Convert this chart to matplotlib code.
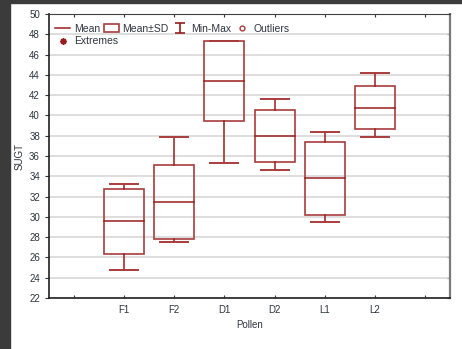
import matplotlib
matplotlib.use("Agg")
import matplotlib.pyplot as plt
from matplotlib.lines import Line2D
from matplotlib.patches import Rectangle
from matplotlib.path import Path
import numpy as np

plt.rcParams.update({"font.family": ["Liberation Sans", "DejaVu Sans"], "font.size": 7.5})

pollen = ["F1", "F2", "D1", "D2", "L1", "L2"]
means = [29.55, 31.45, 43.40, 38.00, 33.80, 40.75]
sds = [3.20, 3.68, 3.93, 2.56, 3.57, 2.11]
mins = [24.80, 27.50, 35.30, 34.60, 29.45, 37.90]
maxs = [33.25, 37.90, 47.33, 41.60, 38.40, 44.20]

box_col = "#a93c3c"
mean_col = "#981e1e"
txt_col = "#2e3440"

fig = plt.figure(figsize=(4.62, 3.49), dpi=100)
# dark screenshot border at left / top
fig.patches.append(Rectangle((0, 0), 10/462, 1, transform=fig.transFigure, color="#3b3b3b", zorder=10))
fig.patches.append(Rectangle((0, 1-2.5/349), 1, 2.5/349, transform=fig.transFigure, color="#3b3b3b", zorder=10))

ax = fig.add_axes([49/462, 51/349, 401/462, 284/349])
ax.set_xlim(-0.5, 7.5); ax.set_ylim(22, 50)
ax.set_yticks(np.arange(22, 51, 2))
ax.yaxis.grid(True, color="#d4d4d4", lw=1.1); ax.set_axisbelow(True)

w, cw = 0.8, 0.56
for i, (m, s, lo, hi) in enumerate(zip(means, sds, mins, maxs)):
    x = i + 1
    ax.add_patch(Rectangle((x - w/2, m - s), w, 2*s, fill=False, ec=box_col, lw=1.2, zorder=3))
    ax.plot([x - w/2, x + w/2], [m, m], color=mean_col, lw=1.1, zorder=4)
    ax.plot([x, x], [m + s, hi], color=mean_col, lw=1.1, zorder=3)
    ax.plot([x, x], [m - s, lo], color=mean_col, lw=1.1, zorder=3)
    ax.plot([x - cw/2, x + cw/2], [hi, hi], color=box_col, lw=1.4, zorder=3)
    ax.plot([x - cw/2, x + cw/2], [lo, lo], color=box_col, lw=1.4, zorder=3)

ax.set_xticks(range(8))
ax.set_xticklabels([""] + pollen + [""])
ax.tick_params(axis="x", direction="in", length=2, top=True, colors=txt_col, labelsize=7, pad=5)
ax.tick_params(axis="y", direction="out", length=3, colors=txt_col, labelsize=7)
for sp in ["left", "bottom"]:
    ax.spines[sp].set_color("#202020"); ax.spines[sp].set_linewidth(1.2)
ax.spines["top"].set_color("#404040"); ax.spines["top"].set_linewidth(0.8)
ax.spines["right"].set_color("#7a7a7a"); ax.spines["right"].set_linewidth(1.6)
sec = ax.secondary_yaxis("right")
sec.set_yticks(np.arange(22, 51, 2)); sec.set_yticklabels([])
sec.tick_params(direction="in", length=2, colors="#404040")
sec.spines["right"].set_visible(False)
ax.set_xlabel("Pollen", color=txt_col, fontsize=7, labelpad=4)
ax.set_ylabel("SUGT", color=txt_col, fontsize=7, labelpad=3)

ibar = Path([(-1, 1), (1, 1), (0, 1), (0, -1), (-1, -1), (1, -1)],
            [Path.MOVETO, Path.LINETO, Path.MOVETO, Path.LINETO, Path.MOVETO, Path.LINETO])
row1 = [
    Line2D([], [], color=mean_col, lw=1.1),
    Rectangle((0, 0), 1, 1, fill=False, ec=box_col, lw=1.2),
    Line2D([], [], ls="none", marker=ibar, ms=7, mfc="none", mec=mean_col, mew=1.2),
    Line2D([], [], ls="none", marker="o", ms=3.5, mfc="none", mec=box_col, mew=1.0),
]
opts = dict(loc="upper left", frameon=False, fontsize=7.5, handlelength=1.45, handletextpad=0.35,
            columnspacing=0.35, borderaxespad=0.0, borderpad=0.0)
leg1 = ax.legend(row1, ["Mean", "Mean\u00b1SD", "Min-Max", "Outliers"], ncol=4,
                 bbox_to_anchor=(6/401, 1 - 9.5/284), **opts)
ax.add_artist(leg1)
leg2 = ax.legend([Line2D([], [], ls="none", marker=(8, 2, 0), ms=4.5, mec=mean_col, mew=1.2)],
                 ["Extremes"], bbox_to_anchor=(6/401, 1 - 22.5/284), **opts)
for lg in (leg1, leg2):
    for t in lg.get_texts():
        t.set_color(txt_col)

fig.savefig("out.png", dpi=100)
